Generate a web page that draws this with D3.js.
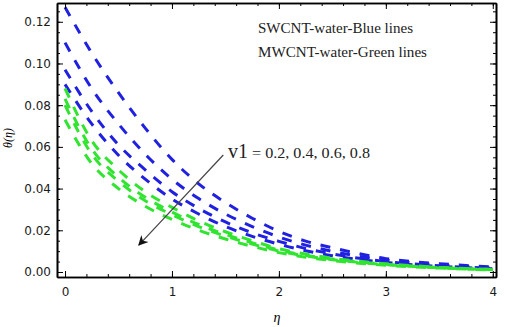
<!DOCTYPE html>
<html>
<head>
<meta charset="utf-8">
<script src="https://cdn.jsdelivr.net/npm/d3@7"></script>
<style>
  body { margin: 0; background: #fff; }
</style>
</head>
<body>
<div id="chart-container"></div>
<script>
// ----- DATA -----
let eta = [0, 0.25, 0.5, 0.75, 1, 1.25, 1.5, 1.75, 2, 2.25, 2.5, 2.75, 3, 3.25, 3.5, 3.75, 4];

// SWCNT-water, v1 = 0.2 .. 0.8 (blue)
let swcnt1 = [0.127, 0.105, 0.086, 0.069, 0.054, 0.0423, 0.0333, 0.0258, 0.0195, 0.0148, 0.0116, 0.0088, 0.0064, 0.0050, 0.0040, 0.0031, 0.0024];
let swcnt2 = [0.110, 0.088, 0.071, 0.0565, 0.0445, 0.0352, 0.0278, 0.0218, 0.0168, 0.0129, 0.0099, 0.0075, 0.0057, 0.0044, 0.0034, 0.0026, 0.0020];
let swcnt3 = [0.097, 0.077, 0.061, 0.049, 0.0385, 0.0305, 0.024, 0.0188, 0.0147, 0.0113, 0.0087, 0.0066, 0.0050, 0.0039, 0.0030, 0.0023, 0.0018];
let swcnt4 = [0.090, 0.071, 0.056, 0.0445, 0.035, 0.0278, 0.0218, 0.0171, 0.0133, 0.0102, 0.0078, 0.0060, 0.0046, 0.0035, 0.0027, 0.0021, 0.0016];

// MWCNT-water, v1 = 0.2 .. 0.8 (green)
let mwcnt1 = [0.088, 0.063, 0.049, 0.0385, 0.031, 0.0245, 0.0193, 0.0150, 0.0112, 0.0086, 0.0066, 0.0051, 0.0039, 0.0030, 0.0023, 0.0017, 0.0013];
let mwcnt2 = [0.083, 0.059, 0.0455, 0.0358, 0.0288, 0.0228, 0.0180, 0.0140, 0.0105, 0.0080, 0.0062, 0.0048, 0.0037, 0.0028, 0.0021, 0.0016, 0.0012];
let mwcnt3 = [0.080, 0.0565, 0.0435, 0.0342, 0.0275, 0.0218, 0.0172, 0.0134, 0.0100, 0.0077, 0.0059, 0.0046, 0.0035, 0.0027, 0.0020, 0.0015, 0.0011];
let mwcnt4 = [0.073, 0.052, 0.040, 0.0315, 0.0252, 0.0200, 0.0158, 0.0123, 0.0093, 0.0071, 0.0055, 0.0042, 0.0032, 0.0025, 0.0019, 0.0014, 0.0010];

let xTicks = [0, 1, 2, 3, 4];
let yTicks = [0, 0.02, 0.04, 0.06, 0.08, 0.10, 0.12];
let legendLines = ["SWCNT-water-Blue lines", "MWCNT-water-Green lines"];
let v1Values = "= 0.2, 0.4, 0.6, 0.8";

let width = 505,
    height = 327;

let frame = { left: 57, right: 496, top: 3, bottom: 277 };

let svg = d3.select("#chart-container")
            .append("svg")
            .attr("width", width)
            .attr("height", height);

// ----- SCALES -----
let xScale = d3.scaleLinear()
    .domain([-0.075, 4.03])
    .range([frame.left, frame.right]);

let yScale = d3.scaleLinear()
    .domain([-0.0024, 0.1290])
    .range([frame.bottom, frame.top]);

// ----- CURVES -----
let line = d3.line()
    .x(d => xScale(d[0]))
    .y(d => yScale(d[1]))
    .curve(d3.curveMonotoneX);

let blue = [swcnt1, swcnt2, swcnt3, swcnt4];
let green = [mwcnt1, mwcnt2, mwcnt3, mwcnt4];

svg.append("defs").append("clipPath")
    .attr("id", "plot-clip")
    .append("rect")
    .attr("x", frame.left)
    .attr("y", frame.top)
    .attr("width", frame.right - frame.left)
    .attr("height", frame.bottom - frame.top);

let curves = svg.append("g").attr("clip-path", "url(#plot-clip)");

blue.forEach(vals => {
    curves.append("path")
        .datum(eta.map((e, i) => [e, vals[i]]))
        .attr("d", line)
        .attr("fill", "none")
        .attr("stroke", "#2020e0")
        .attr("stroke-width", 3)
        .attr("stroke-dasharray", "10,10");
});

green.forEach(vals => {
    curves.append("path")
        .datum(eta.map((e, i) => [e, vals[i]]))
        .attr("d", line)
        .attr("fill", "none")
        .attr("stroke", "#30e430")
        .attr("stroke-width", 3)
        .attr("stroke-dasharray", "10,10");
});

// ----- AXES (frame with inward ticks) -----
let minorX = d3.range(0, 4.01, 0.2);
let minorY = d3.range(0, 0.1251, 0.005);

function styleAxis(g) {
    g.selectAll("path.domain").attr("stroke", "#000").attr("stroke-width", 1.6);
    g.selectAll(".tick line").attr("stroke", "#000").attr("stroke-width", 1);
    g.selectAll("text")
        .style("font-family", "DejaVu Sans, Verdana, sans-serif")
        .style("font-size", "12px")
        .attr("fill", "#1a1a1a");
}

// bottom
svg.append("g")
    .attr("transform", `translate(0,${frame.bottom})`)
    .call(d3.axisBottom(xScale).tickValues(minorX).tickFormat("").tickSize(-3).tickSizeOuter(0))
    .call(styleAxis);
svg.append("g")
    .attr("transform", `translate(0,${frame.bottom})`)
    .call(d3.axisBottom(xScale).tickValues(xTicks).tickFormat(d3.format("d")).tickSize(-6).tickSizeOuter(0).tickPadding(10))
    .call(styleAxis);

// top
svg.append("g")
    .attr("transform", `translate(0,${frame.top})`)
    .call(d3.axisTop(xScale).tickValues(minorX).tickFormat("").tickSize(-3).tickSizeOuter(0))
    .call(styleAxis);
svg.append("g")
    .attr("transform", `translate(0,${frame.top})`)
    .call(d3.axisTop(xScale).tickValues(xTicks).tickFormat("").tickSize(-6).tickSizeOuter(0))
    .call(styleAxis);

// left
svg.append("g")
    .attr("transform", `translate(${frame.left},0)`)
    .call(d3.axisLeft(yScale).tickValues(minorY).tickFormat("").tickSize(-3).tickSizeOuter(0))
    .call(styleAxis);
svg.append("g")
    .attr("transform", `translate(${frame.left},0)`)
    .call(d3.axisLeft(yScale).tickValues(yTicks).tickFormat(d3.format(".2f")).tickSize(-6).tickSizeOuter(0).tickPadding(6))
    .call(styleAxis);

// right
svg.append("g")
    .attr("transform", `translate(${frame.right},0)`)
    .call(d3.axisRight(yScale).tickValues(minorY).tickFormat("").tickSize(-3).tickSizeOuter(0))
    .call(styleAxis);
svg.append("g")
    .attr("transform", `translate(${frame.right},0)`)
    .call(d3.axisRight(yScale).tickValues(yTicks).tickFormat("").tickSize(-6).tickSizeOuter(0))
    .call(styleAxis);

// ----- AXIS LABELS -----
svg.append("text")
    .attr("x", 277)
    .attr("y", 322)
    .style("text-anchor", "middle")
    .style("font-family", "Liberation Serif, Times New Roman, serif")
    .style("font-style", "italic")
    .style("font-size", "14px")
    .text("η");

svg.append("text")
    .attr("transform", "translate(12,138) rotate(-90)")
    .style("text-anchor", "middle")
    .style("font-family", "Liberation Serif, Times New Roman, serif")
    .style("font-style", "italic")
    .style("font-size", "12px")
    .text("θ(η)");

// ----- LEGEND TEXT -----
svg.selectAll("text.legend")
    .data(legendLines)
    .enter()
    .append("text")
    .attr("class", "legend")
    .attr("x", 258)
    .attr("y", (d, i) => 33 + i * 24)
    .attr("textLength", (d, i) => i === 0 ? 155 : 169)
    .attr("lengthAdjust", "spacingAndGlyphs")
    .style("font-family", "Liberation Serif, Times New Roman, serif")
    .style("font-size", "14px")
    .attr("fill", "#222")
    .text(d => d);

// ----- ARROW ANNOTATION -----
svg.append("defs").append("marker")
    .attr("id", "arrowhead")
    .attr("viewBox", "0 0 10 10")
    .attr("refX", 9)
    .attr("refY", 5)
    .attr("markerWidth", 14)
    .attr("markerHeight", 10)
    .attr("markerUnits", "userSpaceOnUse")
    .attr("orient", "auto")
    .append("path")
    .attr("d", "M0,0 L10,5 L0,10 L3,5 Z")
    .attr("fill", "#111");

svg.append("line")
    .attr("x1", xScale(1.48))
    .attr("y1", yScale(0.0561))
    .attr("x2", xScale(0.69))
    .attr("y2", yScale(0.0129))
    .attr("stroke", "#444")
    .attr("stroke-width", 1.2)
    .attr("marker-end", "url(#arrowhead)");

svg.append("text")
    .attr("x", 228)
    .attr("y", 158)
    .style("font-family", "Liberation Serif, Times New Roman, serif")
    .style("font-size", "20px")
    .attr("fill", "#222")
    .text("v1");

svg.append("text")
    .attr("x", 252)
    .attr("y", 158)
    .attr("textLength", 118)
    .attr("lengthAdjust", "spacingAndGlyphs")
    .style("font-family", "Liberation Serif, Times New Roman, serif")
    .style("font-size", "14px")
    .attr("fill", "#222")
    .text(v1Values);
</script>
</body>
</html>
